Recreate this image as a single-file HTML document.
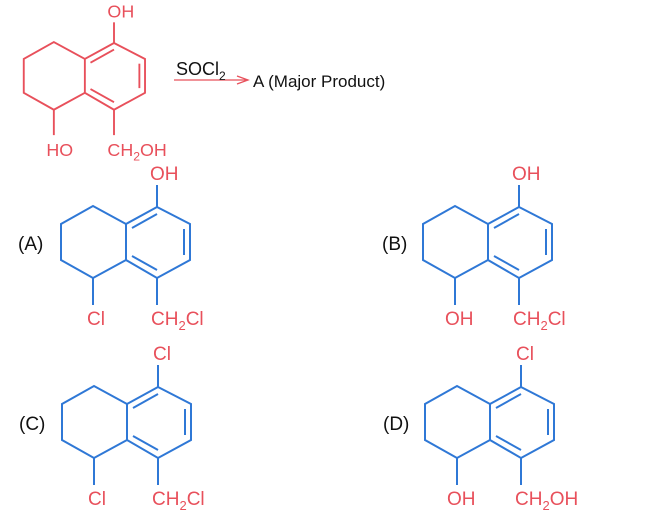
<!DOCTYPE html>
<html><head><style>body{margin:0;background:#fff}svg{display:block}</style></head><body>
<svg width="657" height="519" viewBox="0 0 657 519" xmlns="http://www.w3.org/2000/svg" font-family="Liberation Sans, Arial, sans-serif">
<defs>
<g id="sk" fill="none" stroke-width="2">
<polyline points="0,0 33,17 33,53 0,71 -31,53 -31,17 0,0"/>
<polyline points="-31,17 -64,-1 -96,17 -96,53 -64,71 -31,53"/>
<line x1="-25" y1="21" x2="0" y2="7"/>
<line x1="27" y1="22" x2="27" y2="48"/>
<line x1="-25" y1="49" x2="0" y2="63"/>
<line x1="0" y1="0" x2="0" y2="-22"/>
<line x1="0" y1="71" x2="0" y2="98"/>
<line x1="-64" y1="71" x2="-64" y2="98"/>
</g>
</defs>
<!-- top -->
<g transform="translate(114,43) scale(0.94)" stroke="#e8505b" fill="#e8505b">
<use href="#sk"/>
<text x="-7" y="-27" font-size="19" stroke="none">OH</text>
<text x="-7" y="120" font-size="19" stroke="none">CH<tspan font-size="13" dy="5">2</tspan><tspan dy="-5">OH</tspan></text>
<text x="-72" y="120" font-size="19" stroke="none">HO</text>
</g>
<line x1="174" y1="80" x2="246" y2="80" stroke="#e8505b" stroke-width="1.3"/>
<polyline points="237,76 248,80 237,84" fill="none" stroke="#e8505b" stroke-width="1.3"/>
<text x="176" y="75" font-size="18" fill="#111">SOCl<tspan font-size="12" dy="5">2</tspan></text>
<text x="253" y="87" font-size="17" fill="#111">A (Major Product)</text>
<!-- A -->
<g transform="translate(157,207)" stroke="#2f78d6">
<use href="#sk"/>
<g fill="#e8505b" stroke="none" font-size="19">
<text x="-7" y="-27">OH</text>
<text x="-70" y="118">Cl</text>
<text x="-6" y="118">CH<tspan font-size="13" dy="5">2</tspan><tspan dy="-5">Cl</tspan></text>
</g></g>
<text x="18" y="250" font-size="19" fill="#111">(A)</text>
<!-- B -->
<g transform="translate(519,207)" stroke="#2f78d6">
<use href="#sk"/>
<g fill="#e8505b" stroke="none" font-size="19">
<text x="-7" y="-27">OH</text>
<text x="-74" y="118">OH</text>
<text x="-6" y="118">CH<tspan font-size="13" dy="5">2</tspan><tspan dy="-5">Cl</tspan></text>
</g></g>
<text x="382" y="250" font-size="19" fill="#111">(B)</text>
<!-- C -->
<g transform="translate(158,387)" stroke="#2f78d6">
<use href="#sk"/>
<g fill="#e8505b" stroke="none" font-size="19">
<text x="-5" y="-27">Cl</text>
<text x="-70" y="118">Cl</text>
<text x="-6" y="118">CH<tspan font-size="13" dy="5">2</tspan><tspan dy="-5">Cl</tspan></text>
</g></g>
<text x="19" y="430" font-size="19" fill="#111">(C)</text>
<!-- D -->
<g transform="translate(521,387)" stroke="#2f78d6">
<use href="#sk"/>
<g fill="#e8505b" stroke="none" font-size="19">
<text x="-5" y="-27">Cl</text>
<text x="-74" y="118">OH</text>
<text x="-6" y="118">CH<tspan font-size="13" dy="5">2</tspan><tspan dy="-5">OH</tspan></text>
</g></g>
<text x="383" y="430" font-size="19" fill="#111">(D)</text>
</svg>
</body></html>
